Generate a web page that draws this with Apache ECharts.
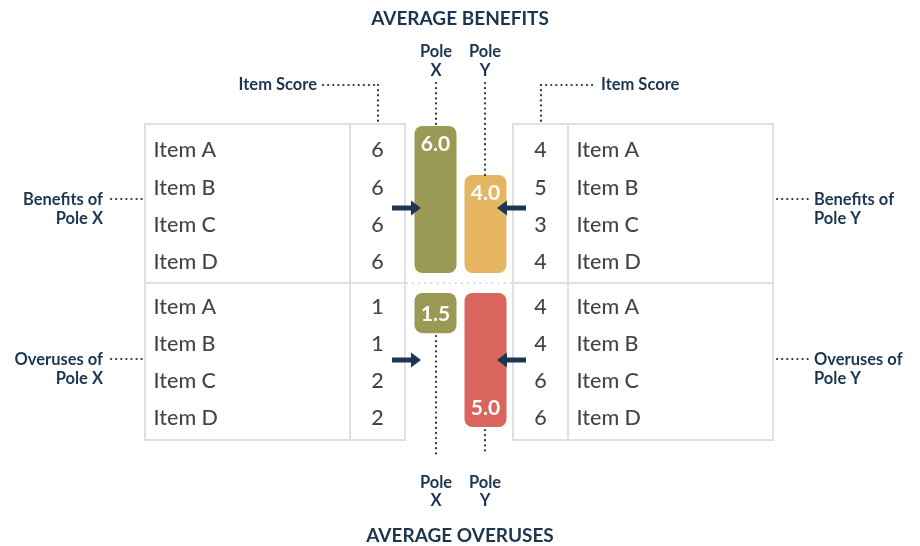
<!DOCTYPE html>
<html>
<head>
<meta charset="utf-8">
<script src="https://cdn.jsdelivr.net/npm/echarts@6/dist/echarts.min.js"></script>
<style>html,body{margin:0;padding:0;background:#fff;}#c{width:920px;height:546px;}</style>
</head>
<body>
<div id="c"></div>
<script>
const items = ['Item A', 'Item B', 'Item C', 'Item D'];
const benefitsX = [6, 6, 6, 6];
const overusesX = [1, 1, 2, 2];
const benefitsY = [4, 5, 3, 4];
const overusesY = [4, 4, 6, 6];
const poles = ['Pole X', 'Pole Y'];
const avgBenefits = [6.0, 4.0];
const avgOveruses = [1.5, 5.0];
const poleColors = ['#9a9a55', '#e5b562'];
const overColors = ['#9a9a55', '#d9655c'];

const NAVY = '#1c3550';
const TXT = '#151515';
const BORDER = '#dde1e6';
const FONT = 'Lato';

const chart = echarts.init(document.getElementById('c'));

const grids = [];
const xAxes = [];
const yAxes = [];
const series = [];

// bar grids
grids.push({ left: 410.5, width: 100, top: 126, height: 147 });
grids.push({ left: 410.5, width: 100, top: 293, height: 134 });
xAxes.push({ type: 'category', data: poles, gridIndex: 0, show: false });
xAxes.push({ type: 'category', data: poles, gridIndex: 1, show: false });
yAxes.push({ type: 'value', gridIndex: 0, min: 0, max: 6, show: false });
yAxes.push({ type: 'value', gridIndex: 1, min: 0, max: 5, inverse: true, show: false });

const barLabel = (pos) => ({
  show: true, position: pos, distance: 8, color: '#fff',
  fontFamily: FONT, fontWeight: 'bold', fontSize: 21,
  formatter: p => Number(p.value).toFixed(1)
});
series.push({
  type: 'bar', xAxisIndex: 0, yAxisIndex: 0, barWidth: 42,
  data: avgBenefits.map((v, i) => ({ value: v, itemStyle: { color: poleColors[i], borderRadius: 8 } })),
  label: barLabel('insideTop'), silent: true
});
series.push({
  type: 'bar', xAxisIndex: 1, yAxisIndex: 1, barWidth: 42,
  data: avgOveruses.map((v, i) => ({ value: v, itemStyle: { color: overColors[i], borderRadius: 8 } })),
  label: barLabel('insideBottom'), silent: true
});

// table grids
function addTable(left, width, top, height, values, isName) {
  const gi = grids.length;
  grids.push({ left, width, top, height });
  xAxes.push({ type: 'value', gridIndex: gi, min: 0, max: 1, show: false });
  yAxes.push({ type: 'category', gridIndex: gi, data: items, inverse: true, show: false });
  series.push({
    type: 'scatter', xAxisIndex: gi, yAxisIndex: gi, symbolSize: 1, silent: true,
    itemStyle: { color: 'transparent' },
    data: values.map((v, i) => ({ value: [isName ? 0 : 0.5, i], txt: String(v) })),
    label: {
      show: true, position: isName ? 'right' : 'inside', distance: 8,
      color: TXT, fontFamily: FONT, fontWeight: 500, fontSize: 21.5,
      formatter: p => p.data.txt
    }
  });
}
const benTop = 131.8, benH = 149.3, ovTop = 289, ovH = 148;
addTable(145, 205, benTop, benH, items, true);
addTable(350, 55, benTop, benH, benefitsX, false);
addTable(145, 205, ovTop, ovH, items, true);
addTable(350, 55, ovTop, ovH, overusesX, false);
addTable(513, 55, benTop, benH, benefitsY, false);
addTable(568, 205, benTop, benH, items, true);
addTable(513, 55, ovTop, ovH, overusesY, false);
addTable(568, 205, ovTop, ovH, items, true);

// graphics
const g = [];
const line = (x1, y1, x2, y2, color, w, dash) => ({
  type: 'line', shape: { x1, y1, x2, y2 }, silent: true, z: 5,
  style: { stroke: color, lineWidth: w, lineDash: dash || null, lineCap: dash ? 'round' : 'butt' }
});
const dotted = (x1, y1, x2, y2) => line(x1, y1, x2, y2, NAVY, 2.2, [0.1, 5]);
const text = (x, y, t, opts) => ({
  type: 'text', x, y, silent: true, z: 10,
  style: Object.assign({ text: t, fill: NAVY, font: 'bold 16.5px ' + FONT, textAlign: 'center', textVerticalAlign: 'middle' }, opts || {})
});

// table borders
[[145, 350, 405], [513, 568, 773]].forEach(([a, m, b]) => {
  g.push({ type: 'rect', shape: { x: a, y: 124, width: b - a, height: 316 }, silent: true, z: 1,
    style: { fill: null, stroke: BORDER, lineWidth: 2 } });
  g.push(line(m, 124, m, 440, BORDER, 2));
  g.push(line(a, 283, b, 283, BORDER, 2));
});
g.push(line(407, 283, 512, 283, '#d3d7dc', 2, [0.1, 6]));

// titles
g.push(text(460, 19, 'AVERAGE BENEFITS', { font: 'bold 19px ' + FONT }));
g.push(text(460, 536, 'AVERAGE OVERUSES', { font: 'bold 19px ' + FONT }));

// pole labels
[[436, 'X'], [485, 'Y']].forEach(([x, l]) => {
  g.push(text(x, 52, 'Pole'));
  g.push(text(x, 71, l));
  g.push(text(x, 483, 'Pole'));
  g.push(text(x, 501, l));
});
g.push(dotted(436, 83, 436, 124));
g.push(dotted(485, 83, 485, 176));
g.push(dotted(436, 336, 436, 455));
g.push(dotted(485, 430, 485, 455));

// item score labels
g.push(text(317, 85, 'Item Score', { textAlign: 'right' }));
g.push(dotted(323, 85, 378, 85));
g.push(dotted(378, 85, 378, 122));
g.push(text(601, 85, 'Item Score', { textAlign: 'left' }));
g.push(dotted(541, 85, 597, 85));
g.push(dotted(541, 85, 541, 122));

// side labels
const sf = { font: 'bold 16.5px ' + FONT };
g.push(text(103, 200, 'Benefits of', Object.assign({ textAlign: 'right' }, sf)));
g.push(text(103, 219, 'Pole X', Object.assign({ textAlign: 'right' }, sf)));
g.push(text(103, 360, 'Overuses of', Object.assign({ textAlign: 'right' }, sf)));
g.push(text(103, 379, 'Pole X', Object.assign({ textAlign: 'right' }, sf)));
g.push(dotted(111, 199, 142, 199));
g.push(dotted(111, 359, 142, 359));
g.push(text(814, 200, 'Benefits of', Object.assign({ textAlign: 'left' }, sf)));
g.push(text(814, 219, 'Pole Y', Object.assign({ textAlign: 'left' }, sf)));
g.push(text(814, 360, 'Overuses of', Object.assign({ textAlign: 'left' }, sf)));
g.push(text(814, 379, 'Pole Y', Object.assign({ textAlign: 'left' }, sf)));
g.push(dotted(777, 199, 808, 199));
g.push(dotted(777, 359, 808, 359));

// arrows
function arrow(tipX, y, dir) {
  const base = tipX - dir * 10;
  g.push(line(base, y, base - dir * 19, y, NAVY, 5));
  g.push({ type: 'polygon', silent: true, z: 12,
    shape: { points: [[tipX, y], [base, y - 7.5], [base, y + 7.5]] },
    style: { fill: NAVY } });
}
arrow(421, 208, 1);
arrow(497, 208, -1);
arrow(421, 360, 1);
arrow(497, 360, -1);

chart.setOption({
  animation: false,
  backgroundColor: '#fff',
  grid: grids,
  xAxis: xAxes,
  yAxis: yAxes,
  series: series,
  graphic: { elements: g }
});
</script>
</body>
</html>
